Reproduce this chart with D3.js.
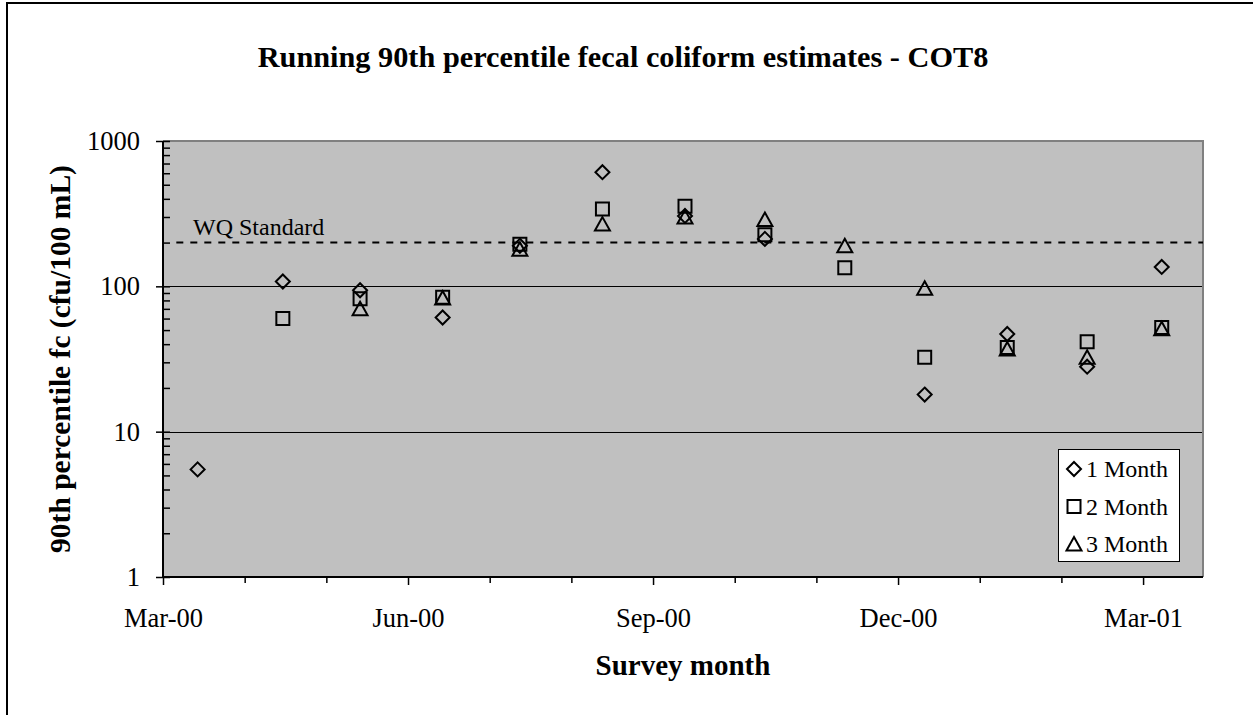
<!DOCTYPE html>
<html>
<head>
<meta charset="utf-8">
<script src="https://cdn.jsdelivr.net/npm/d3@7"></script>
<style>
  body { margin: 0; background: #fff; }
  text { font-family: "Liberation Serif", "Times New Roman", serif; fill: #000; }
</style>
</head>
<body>
<div id="chart-area"></div>
<script>
// survey dates (one point per month) and running 90th percentile values
const sampleDates = ["2000-03-14", "2000-04-15", "2000-05-14", "2000-06-14", "2000-07-13",
  "2000-08-13", "2000-09-13", "2000-10-13", "2000-11-12", "2000-12-12",
  "2001-01-12", "2001-02-11", "2001-03-11"];
const oneMonth = [5.5, 108, 94, 61, 190, 610, 305, 212, null, 18, 47, 28, 136];
const twoMonth = [null, 60, 82, 84, 195, 340, 355, 226, 134, 32.5, 38, 41.5, 52];
const threeMonth = [null, null, 70, 83, 180, 268, 300, 288, 190, 97, 37, 32.5, 51];
const seriesNames = ["1 Month", "2 Month", "3 Month"];
const wqStandard = 200;
const wqStart = "2000-03-06";
const xTickLabels = ["Mar-00", "Jun-00", "Sep-00", "Dec-00", "Mar-01"];
const yTicks = [1, 10, 100, 1000];

const DAY = 864e5;

const diamond = {
  draw(ctx) { ctx.moveTo(0, -7); ctx.lineTo(7, 0); ctx.lineTo(0, 7); ctx.lineTo(-7, 0); ctx.closePath(); }
};
const square = {
  draw(ctx) { ctx.rect(-6.5, -6.5, 13, 13); }
};
const triangle = {
  draw(ctx) { ctx.moveTo(0, -7); ctx.lineTo(7.5, 6.5); ctx.lineTo(-7.5, 6.5); ctx.closePath(); }
};

const main = () => {
  const parse = d3.utcParse("%Y-%m-%d");
  const dates = sampleDates.map(parse);
  const start = parse("2000-03-01");

  const plot = { left: 163, right: 1203, top: 141, bottom: 577 };

  const svg = d3.select("#chart-area").append("svg")
    .attr("width", 1253).attr("height", 715);

  // chart frame
  svg.append("rect")
    .attr("x", 7).attr("y", 3).attr("width", 1300).attr("height", 800)
    .attr("fill", "#fff").attr("stroke", "#000").attr("stroke-width", 2);

  const x = d3.scaleUtc()
    .domain([start, new Date(start.getTime() + 390.5 * DAY)])
    .range([plot.left, plot.right]);
  const y = d3.scaleLog()
    .domain([1, 1000])
    .range([plot.bottom, plot.top]);

  // plot area
  svg.append("rect")
    .attr("x", plot.left).attr("y", plot.top)
    .attr("width", plot.right - plot.left).attr("height", plot.bottom - plot.top)
    .attr("fill", "#c0c0c0");

  // gridlines
  svg.append("g").selectAll("line")
    .data(yTicks.filter(d => d > 1 && d < 1000))
    .join("line")
    .attr("x1", plot.left).attr("x2", plot.right)
    .attr("y1", d => Math.round(y(d)) + 0.5).attr("y2", d => Math.round(y(d)) + 0.5)
    .attr("stroke", "#000").attr("stroke-width", 1);

  // top / right border
  svg.append("path")
    .attr("d", `M${plot.left},${plot.top}H${plot.right}V${plot.bottom}`)
    .attr("fill", "none").attr("stroke", "#808080").attr("stroke-width", 2);

  // WQ standard line
  svg.append("line")
    .attr("x1", x(parse(wqStart))).attr("x2", plot.right)
    .attr("y1", y(wqStandard)).attr("y2", y(wqStandard))
    .attr("stroke", "#000").attr("stroke-width", 2)
    .attr("stroke-dasharray", "7,7");
  svg.append("text")
    .attr("x", 193).attr("y", 235)
    .style("font-size", "24px")
    .text("WQ Standard");

  // x axis: major every 92 days, minor every third of that
  const majorDates = d3.range(5).map(i => new Date(start.getTime() + i * 92 * DAY));
  const minorDates = d3.range(13).filter(i => i % 3 !== 0)
    .map(i => new Date(start.getTime() + i * 92 / 3 * DAY));

  const xAxis = svg.append("g")
    .attr("transform", `translate(0,${plot.bottom})`)
    .call(d3.axisBottom(x).tickValues(majorDates)
      .tickFormat((d, i) => xTickLabels[i]).tickSize(8).tickSizeOuter(0));
  xAxis.select(".domain").remove();
  xAxis.selectAll(".tick line").attr("stroke-width", 1.5);
  xAxis.selectAll(".tick text")
    .attr("y", 31).style("font-size", "26.5px").attr("font-family", null);

  svg.append("g")
    .attr("transform", `translate(0,${plot.bottom})`)
    .call(d3.axisBottom(x).tickValues(minorDates).tickFormat("").tickSize(6).tickSizeOuter(0))
    .call(g => g.select(".domain").remove())
    .selectAll(".tick line").attr("stroke-width", 1.5);

  // y axis with log minor ticks
  const minorY = d3.range(1, 4).flatMap(e => d3.range(2, 10).map(m => m * Math.pow(10, e - 1)));
  const yAxis = svg.append("g")
    .attr("transform", `translate(${plot.left},0)`)
    .call(d3.axisLeft(y).tickValues(yTicks).tickFormat(d3.format("d"))
      .tickSize(7).tickPadding(16).tickSizeOuter(0));
  yAxis.select(".domain").remove();
  yAxis.selectAll(".tick line").attr("x2", 7).attr("x1", -7).attr("stroke-width", 1.5);
  yAxis.selectAll(".tick text").style("font-size", "26.5px").attr("font-family", null);

  svg.append("g")
    .attr("transform", `translate(${plot.left},0)`)
    .call(d3.axisLeft(y).tickValues(minorY).tickFormat("").tickSize(5).tickSizeOuter(0))
    .call(g => g.select(".domain").remove())
    .selectAll(".tick line").attr("x2", 7).attr("stroke-width", 1.5);

  // axis lines
  svg.append("path")
    .attr("d", `M${plot.left},${plot.top}V${plot.bottom}H${plot.right}`)
    .attr("fill", "none").attr("stroke", "#000").attr("stroke-width", 2);

  // data points
  const series = [
    { name: seriesNames[0], values: oneMonth, shape: diamond },
    { name: seriesNames[1], values: twoMonth, shape: square },
    { name: seriesNames[2], values: threeMonth, shape: triangle },
  ];
  series.forEach(s => {
    const pts = s.values.map((v, i) => ({ date: dates[i], value: v }))
      .filter(p => p.value != null);
    svg.append("g").selectAll("path")
      .data(pts)
      .join("path")
      .attr("d", d3.symbol().type(s.shape))
      .attr("transform", p => `translate(${x(p.date)},${y(p.value)})`)
      .attr("fill", "none").attr("stroke", "#000").attr("stroke-width", 2);
  });

  // legend
  const legend = svg.append("g");
  legend.append("rect")
    .attr("x", 1058.5).attr("y", 449.5).attr("width", 121).attr("height", 112)
    .attr("fill", "#fff").attr("stroke", "#000").attr("stroke-width", 1);
  series.forEach((s, i) => {
    const cy = 469 + i * 37.5;
    legend.append("path")
      .attr("d", d3.symbol().type(s.shape))
      .attr("transform", `translate(1074,${cy})`)
      .attr("fill", "none").attr("stroke", "#000").attr("stroke-width", 2);
    legend.append("text")
      .attr("x", 1086).attr("y", cy + 8)
      .style("font-size", "24px")
      .text(s.name);
  });

  // titles
  svg.append("text")
    .attr("x", 623).attr("y", 67)
    .attr("text-anchor", "middle")
    .style("font-size", "30.3px").style("font-weight", "bold")
    .text("Running 90th percentile fecal coliform estimates - COT8");

  svg.append("text")
    .attr("x", 683).attr("y", 675)
    .attr("text-anchor", "middle")
    .style("font-size", "29px").style("font-weight", "bold")
    .text("Survey month");

  svg.append("text")
    .attr("transform", `translate(70,${(plot.top + plot.bottom) / 2}) rotate(-90)`)
    .attr("text-anchor", "middle")
    .style("font-size", "29.5px").style("font-weight", "bold")
    .text("90th percentile fc (cfu/100 mL)");
};

window.onload = main;
</script>
</body>
</html>
